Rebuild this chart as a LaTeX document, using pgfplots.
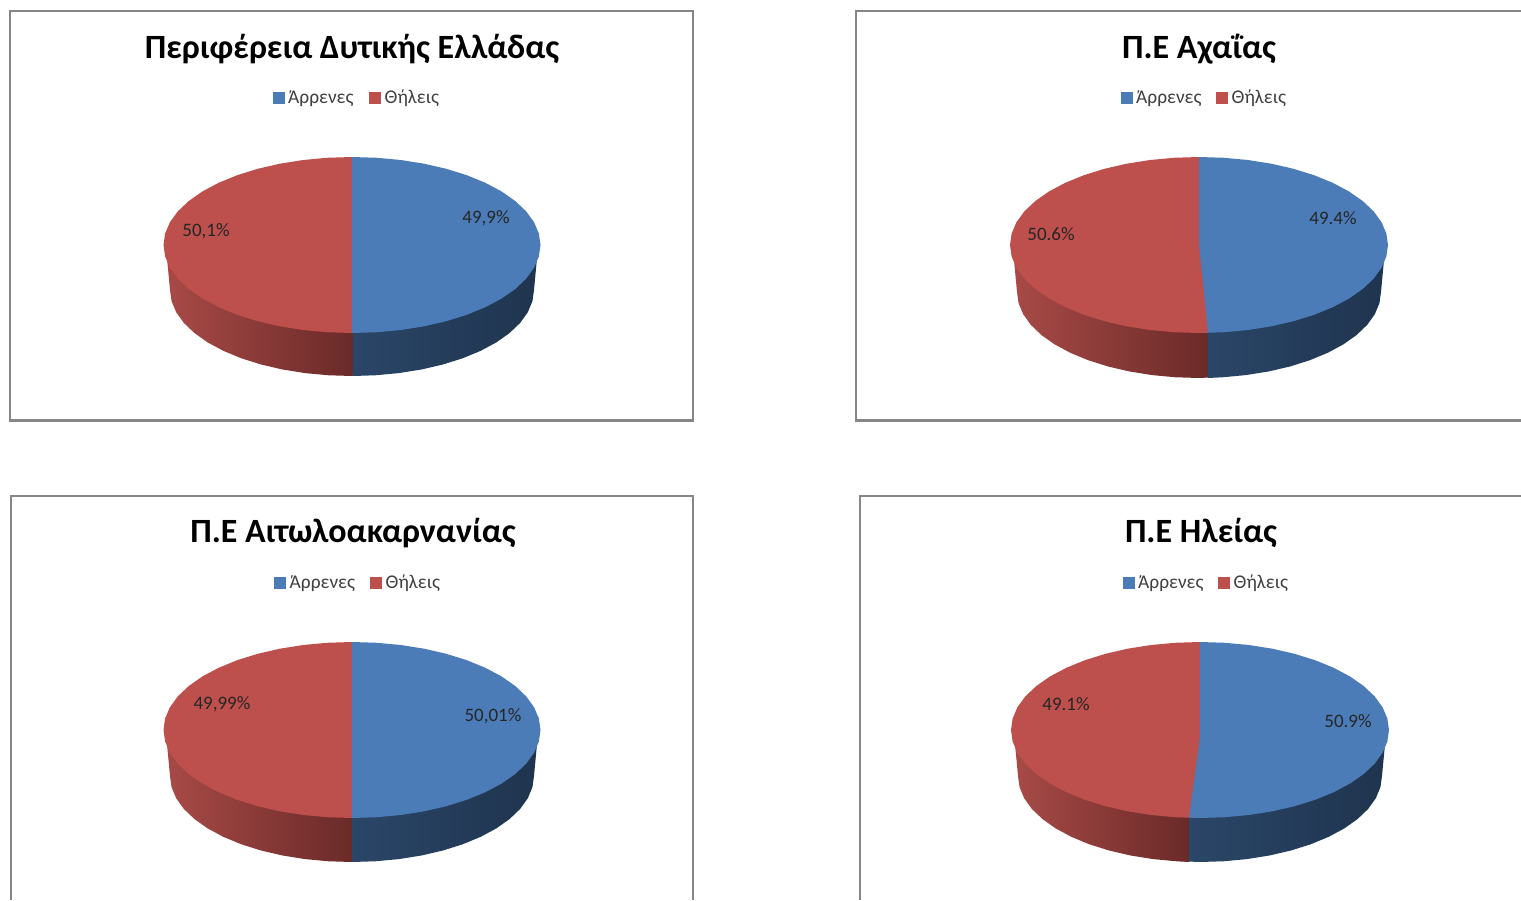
\documentclass[border=0pt]{standalone}
\usepackage{pgfplots}
\usepackage{pgfplotstable}
\usepackage{fontspec}
\setmainfont{Carlito}
\pgfplotsset{compat=1.18}
\definecolor{pieblue}{HTML}{4B7CB8}
\definecolor{piered}{HTML}{BD4F4C}
\definecolor{frameg}{HTML}{868686}
% half outline of a pie face (top to bottom)
\pgfplotstableread{
u v
0 -1
.1305 -.9914
.2588 -.9659
.3827 -.9239
.5 -.8660
.6088 -.7934
.7071 -.7071
.7934 -.6088
.8660 -.5
.9239 -.3827
.9659 -.2588
.9914 -.1305
1 0
.9914 .1305
.9659 .2588
.9239 .3827
.8660 .5
.7934 .6088
.7071 .7071
.6088 .7934
.5 .8660
.3827 .9239
.2588 .9659
.1305 .9914
0 1
}\halfarc
% outline of one side of the wall
\pgfplotstableread{
u v
1.02 -.45
1 0
.9914 .1305
.9659 .2588
.9239 .3827
.8660 .5
.7934 .6088
.7071 .7071
.6088 .7934
.5 .8660
.3827 .9239
.2588 .9659
.1305 .9914
0 1
-.1 .995
-.1 0
}\wallarc
% #1 cx, #2 cy, #3 wall centre y, #4 rx, #5 boundary x on the front rim
\newcommand\PieChart[5]{%
  \addplot[draw=none,left color=wallredA,right color=wallredB]
    table[x expr={min(#5,#1-182*\thisrow{u})},y expr={#3+86*\thisrow{v}}]{\wallarc} -- cycle;
  \addplot[draw=none,left color=wallblueA,middle color=wallblueB,right color=wallblueB]
    table[x expr={max(#5,#1+182*\thisrow{u})},y expr={#3+86*\thisrow{v}}]{\wallarc} -- cycle;
  \addplot[draw=none,fill=piered]
    table[x expr={#1-#4*\thisrow{u}},y expr={#2+88*\thisrow{v}}]{\halfarc} -- cycle;
  \addplot[draw=none,fill=piered]
    table[x expr={#1+0.2*#4*\thisrow{u}},y expr={#2+88*\thisrow{v}}]{\halfarc} -- cycle;
  \addplot[draw=none,fill=pieblue]
    table[x expr={#1+#4*\thisrow{u}},y expr={#2+88*\thisrow{v}}]{\halfarc} -- cycle;
}
\definecolor{wallredA}{HTML}{A84A47}
\definecolor{wallredB}{HTML}{6A2A28}
\definecolor{wallblueA}{HTML}{2A4668}
\definecolor{wallblueB}{HTML}{1F344E}
% #1 title x, #2 title y, #3 title, #4 blue sq x, #5 red sq x, #6 legend y
\newcommand\Furniture[6]{%
  \node[font=\fontsize{34}{38}\selectfont\bfseries,anchor=center] at (axis cs:#1,#2+2) {#3};
  \addplot[only marks,mark=square*,mark size=5.5,color=pieblue] coordinates {(#4,#6)};
  \addplot[only marks,mark=square*,mark size=5.5,color=piered] coordinates {(#5,#6)};
  \node[font=\fontsize{19.4}{22}\selectfont,anchor=west,inner sep=0pt,text=black!75] at (axis cs:#4+9.5,#6+1) {Άρρενες};
  \node[font=\fontsize{19.4}{22}\selectfont,anchor=west,inner sep=0pt,text=black!75] at (axis cs:#5+10,#6+1) {Θήλεις};
}
\newcommand\PLabel[3]{\node[font=\fontsize{19}{21}\selectfont,text=black!85] at (axis cs:#1,#2+1.5) {#3};}
\begin{document}
\begin{tikzpicture}
\useasboundingbox (0,0) rectangle (1521pt,900pt);
\begin{axis}[
  hide axis, scale only axis, width=1521pt, height=900pt,
  xmin=0, xmax=1521, ymin=0, ymax=900, y dir=reverse,
  enlargelimits=false, clip=true]
% frames
\addplot[frameg,line width=1.6pt] coordinates {(10,420) (10,11) (693,11) (693,420)};
\addplot[frameg,line width=3pt] coordinates {(9,420) (694,420)};
\addplot[frameg,line width=1.6pt] coordinates {(856,420) (856,11) (1521,11)};
\addplot[frameg,line width=3pt] coordinates {(855,420) (1521,420)};
\addplot[frameg,line width=1.6pt] coordinates {(11,900) (11,496) (693,496) (693,900)};
\addplot[frameg,line width=1.6pt] coordinates {(860,900) (860,496) (1521,496)};
% pies
\PieChart{352}{245}{290}{188.5}{353}
\PieChart{1199}{245}{292}{189}{1208}
\addplot[draw=none,fill=piered] coordinates {(1199,245) (1208,332.5) (1199,333)} -- cycle;
\PieChart{352}{730}{776}{188.5}{352}
\PieChart{1200}{730}{776}{189}{1189}
\addplot[draw=none,fill=pieblue] coordinates {(1201,730) (1201,818) (1189,817.5)} -- cycle;
% text
\Furniture{352}{47}{Περιφέρεια Δυτικής Ελλάδας}{278.5}{374.5}{97.5}
\Furniture{1199}{47}{Π.Ε Αχαΐας}{1126.5}{1221.5}{97.5}
\Furniture{353}{531}{Π.Ε Αιτωλοακαρνανίας}{280}{375.5}{582.5}
\Furniture{1201}{531}{Π.Ε Ηλείας}{1128.5}{1223.5}{582.5}
\PLabel{486}{217}{49,9\%}
\PLabel{206}{230}{50,1\%}
\PLabel{1333}{217}{49.4\%}
\PLabel{1051}{233}{50.6\%}
\PLabel{493}{715}{50,01\%}
\PLabel{222}{703}{49,99\%}
\PLabel{1348}{720}{50.9\%}
\PLabel{1066}{703}{49.1\%}
\end{axis}
\end{tikzpicture}
\end{document}
